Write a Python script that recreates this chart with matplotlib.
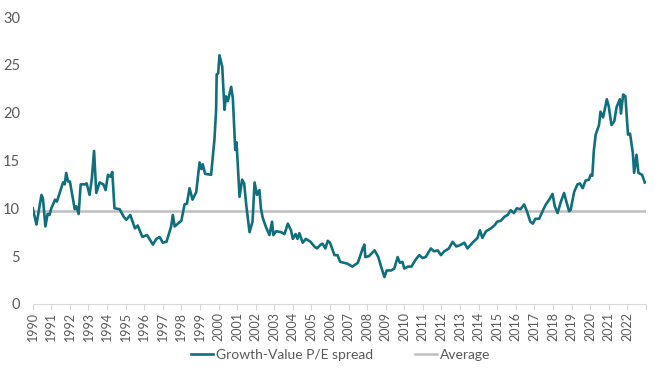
import matplotlib
matplotlib.use("Agg")
import matplotlib.pyplot as plt

plt.rcParams['font.family'] = ['Lato', 'DejaVu Sans']

# fractional year, spread value
dates = [1990.0, 1990.2, 1990.47, 1990.55, 1990.68, 1990.8, 1990.9, 1991.0, 1991.2, 1991.3,
         1991.45, 1991.63, 1991.72, 1991.8, 1991.9, 1992.0, 1992.17, 1992.26, 1992.35, 1992.47,
         1992.58, 1992.8, 1992.9, 1993.06, 1993.18, 1993.3, 1993.42, 1993.6, 1993.8, 1993.92,
         1994.05, 1994.18, 1994.28, 1994.4, 1994.68, 1994.9, 1995.04, 1995.25, 1995.5, 1995.65,
         1995.9, 1996.15, 1996.47, 1996.65, 1996.83, 1997.0, 1997.2, 1997.45, 1997.54, 1997.64,
         1997.82, 1998.0, 1998.17, 1998.3, 1998.44, 1998.6, 1998.8, 1998.98, 1999.08, 1999.15,
         1999.28, 1999.6, 1999.78, 1999.87, 1999.9, 1999.98, 2000.05, 2000.2, 2000.32, 2000.4,
         2000.5, 2000.68, 2000.77, 2000.9, 2000.97, 2001.13, 2001.27, 2001.38, 2001.5, 2001.67,
         2001.83, 2001.94, 2002.07, 2002.2, 2002.28, 2002.38, 2002.56, 2002.74, 2002.88, 2002.95,
         2003.1, 2003.37, 2003.55, 2003.73, 2003.9, 2004.0, 2004.15, 2004.25, 2004.35, 2004.53,
         2004.7, 2004.95, 2005.16, 2005.3, 2005.5, 2005.6, 2005.75, 2005.88, 2006.0, 2006.24,
         2006.4, 2006.55, 2006.75, 2006.95, 2007.2, 2007.5, 2007.76, 2007.85, 2007.9, 2008.1,
         2008.4, 2008.6, 2008.75, 2008.93, 2009.05, 2009.3, 2009.46, 2009.64, 2009.76, 2009.9,
         2010.0, 2010.2, 2010.38, 2010.6, 2010.8, 2010.98, 2011.15, 2011.43, 2011.6, 2011.8,
         2011.97, 2012.15, 2012.4, 2012.6, 2012.8, 2013.06, 2013.23, 2013.4, 2013.67, 2013.94,
         2014.07, 2014.2, 2014.4, 2014.66, 2014.85, 2015.0, 2015.2, 2015.38, 2015.56, 2015.73,
         2015.9, 2016.06, 2016.25, 2016.45, 2016.6, 2016.78, 2016.92, 2017.05, 2017.26, 2017.44,
         2017.62, 2017.8, 2017.98, 2018.1, 2018.25, 2018.43, 2018.6, 2018.75, 2018.87, 2018.95,
         2019.14, 2019.32, 2019.45, 2019.6, 2019.76, 2019.94, 2020.03, 2020.12, 2020.2, 2020.3,
         2020.48, 2020.56, 2020.7, 2020.9, 2021.0, 2021.15, 2021.3, 2021.43, 2021.6, 2021.66,
         2021.78, 2021.9, 2022.04, 2022.15, 2022.3, 2022.37, 2022.5, 2022.6, 2022.8, 2022.94]
spread = [10.0, 8.3, 11.4, 11.0, 8.1, 9.4, 9.3, 10.0, 10.9, 10.7,
          11.6, 12.7, 12.5, 13.7, 12.8, 12.8, 10.9, 9.9, 10.2, 9.4,
          12.5, 12.5, 12.6, 11.4, 13.1, 16.0, 11.6, 12.7, 12.5, 11.9,
          13.5, 13.3, 13.8, 10.0, 9.9, 9.1, 8.8, 9.3, 7.9, 8.2,
          7.0, 7.2, 6.2, 6.8, 7.0, 6.4, 6.5, 8.1, 9.3, 8.1,
          8.4, 8.7, 10.4, 10.5, 12.1, 10.9, 11.7, 14.8, 14.1, 14.6,
          13.6, 13.5, 17.2, 20.3, 24.0, 24.1, 26.0, 24.8, 20.3, 21.7,
          21.2, 22.7, 21.5, 16.1, 16.9, 11.2, 13.0, 12.6, 10.2, 7.5,
          8.6, 12.7, 11.4, 11.9, 10.0, 9.0, 8.0, 7.2, 8.6, 7.2,
          7.6, 7.5, 7.3, 8.4, 7.7, 6.8, 7.3, 6.8, 7.4, 6.4,
          6.8, 6.5, 6.0, 5.8, 6.2, 6.3, 5.8, 6.6, 6.4, 5.1,
          5.1, 4.4, 4.3, 4.2, 3.9, 4.3, 5.8, 6.2, 4.9, 5.0,
          5.6, 4.9, 3.9, 2.8, 3.5, 3.5, 3.7, 4.9, 4.3, 4.4,
          3.7, 3.9, 3.9, 4.6, 5.1, 4.8, 4.9, 5.8, 5.5, 5.6,
          5.1, 5.5, 5.8, 6.5, 6.0, 6.2, 6.4, 5.8, 6.4, 6.9,
          7.7, 6.9, 7.6, 7.9, 8.2, 8.6, 8.7, 9.1, 9.3, 9.8,
          9.5, 10.0, 9.9, 10.4, 9.7, 8.6, 8.4, 8.9, 8.9, 9.7,
          10.4, 10.9, 11.5, 10.2, 9.5, 10.7, 11.6, 10.5, 9.7, 9.8,
          11.7, 12.5, 12.6, 12.1, 12.9, 13.0, 13.5, 13.4, 16.0, 17.7,
          18.7, 20.1, 19.5, 21.4, 20.7, 18.7, 19.1, 20.6, 21.4, 19.9,
          21.9, 21.7, 17.7, 17.8, 15.8, 13.7, 15.6, 13.7, 13.5, 12.7]
average = 9.7
years = list(range(1990, 2024))
year_labels = [str(y) for y in range(1990, 2023)] + ['']

fig = plt.figure(figsize=(6.55, 3.78), dpi=100)
ax = fig.add_axes([0.05, 0.196, 0.936, 0.759])

ax.plot(dates, spread, color='#0f6f7c', lw=1.9, label='Growth-Value P/E spread', zorder=3)
ax.plot([years[0], years[-1]], [average, average], color='#bfbfbf', lw=1.8, label='Average', zorder=2)

ax.set_xlim(1990, 2023)
ax.set_ylim(0, 30)
ax.set_yticks([0, 5, 10, 15, 20, 25, 30])
ax.set_xticks(years)
ax.set_xticklabels(year_labels, rotation=90)

for s in ['top', 'right', 'left']:
    ax.spines[s].set_visible(False)
ax.spines['bottom'].set_color('#d9d9d9')
ax.tick_params(axis='y', length=0, pad=9, labelsize=10.5, labelcolor='#595959')
ax.tick_params(axis='x', length=4, color='#d9d9d9', labelsize=9, labelcolor='#595959', pad=2)

fig.legend(loc='center', bbox_to_anchor=(0.52, 0.062), ncol=2, frameon=False,
           fontsize=10, handlelength=1.6, columnspacing=3.0, handletextpad=0.2,
           labelcolor='#595959')

plt.savefig('out.png', dpi=100)
